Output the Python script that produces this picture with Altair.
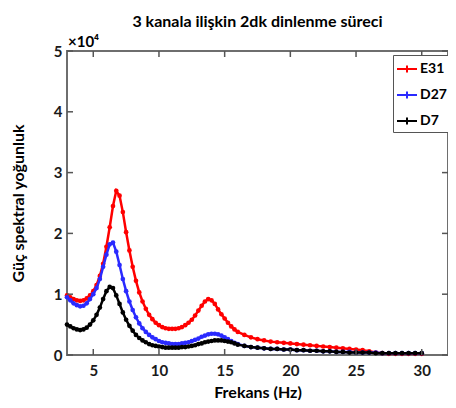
import altair as alt
import pandas as pd

freq = [3.00, 3.25, 3.50, 3.75, 4.00, 4.25, 4.50, 4.75, 5.00, 5.25,
        5.50, 5.75, 6.00, 6.25, 6.50, 6.75, 7.00, 7.25, 7.50, 7.75,
        8.00, 8.25, 8.50, 8.75, 9.00, 9.25, 9.50, 9.75, 10.00, 10.25,
        10.50, 10.75, 11.00, 11.25, 11.50, 11.75, 12.00, 12.25, 12.50, 12.75,
        13.00, 13.25, 13.50, 13.75, 14.00, 14.25, 14.50, 14.75, 15.00, 15.25,
        15.50, 15.75, 16.00,
        16.5, 17.0, 17.5, 18.0, 18.5, 19.0, 19.5, 20.0, 20.5, 21.0,
        21.5, 22.0, 22.5, 23.0, 23.5, 24.0, 24.5, 25.0, 25.5, 26.0,
        26.5, 27.0, 27.5, 28.0, 28.5, 29.0, 29.5, 30.0]

e31 = [0.98, 0.95, 0.92, 0.90, 0.89, 0.90, 0.93, 0.98, 1.05, 1.15,
       1.30, 1.50, 1.78, 2.10, 2.45, 2.70, 2.62, 2.35, 2.02, 1.72,
       1.45, 1.22, 1.03, 0.88, 0.76, 0.66, 0.59, 0.53, 0.49, 0.46,
       0.44, 0.43, 0.43, 0.43, 0.44, 0.46, 0.49, 0.53, 0.58, 0.65,
       0.73, 0.81, 0.88, 0.92, 0.90, 0.84, 0.75, 0.67, 0.60, 0.53,
       0.47, 0.42, 0.38,
       0.33, 0.29, 0.26, 0.24, 0.22, 0.21, 0.20, 0.19, 0.18, 0.17,
       0.16, 0.15, 0.14, 0.13, 0.12, 0.11, 0.10, 0.09, 0.08, 0.06,
       0.04, 0.03, 0.02, 0.02, 0.02, 0.02, 0.02, 0.02]

d27 = [0.95, 0.90, 0.85, 0.82, 0.80, 0.81, 0.85, 0.92, 1.00, 1.10,
       1.25, 1.45, 1.65, 1.82, 1.85, 1.70, 1.48, 1.25, 1.05, 0.88,
       0.74, 0.62, 0.52, 0.44, 0.38, 0.33, 0.29, 0.26, 0.23, 0.21,
       0.20, 0.19, 0.18, 0.18, 0.18, 0.19, 0.20, 0.21, 0.23, 0.25,
       0.27, 0.30, 0.32, 0.34, 0.35, 0.35, 0.34, 0.32, 0.29, 0.26,
       0.23, 0.20, 0.18,
       0.15, 0.13, 0.12, 0.11, 0.10, 0.10, 0.09, 0.09, 0.08, 0.08,
       0.07, 0.07, 0.06, 0.06, 0.05, 0.05, 0.05, 0.04, 0.04, 0.04,
       0.04, 0.03, 0.03, 0.03, 0.03, 0.03, 0.03, 0.03]

d7 = [0.50, 0.47, 0.44, 0.42, 0.41, 0.42, 0.45, 0.50, 0.57, 0.66,
      0.78, 0.92, 1.05, 1.12, 1.10, 0.98, 0.84, 0.70, 0.58, 0.48,
      0.40, 0.33, 0.28, 0.24, 0.21, 0.18, 0.16, 0.15, 0.14, 0.13,
      0.12, 0.12, 0.12, 0.12, 0.12, 0.13, 0.13, 0.14, 0.15, 0.16,
      0.18, 0.19, 0.21, 0.22, 0.23, 0.24, 0.24, 0.24, 0.23, 0.22,
      0.21, 0.19, 0.17,
      0.15, 0.13, 0.12, 0.11, 0.10, 0.10, 0.09, 0.09, 0.08, 0.08,
      0.07, 0.07, 0.06, 0.06, 0.05, 0.05, 0.04, 0.04, 0.04, 0.04,
      0.03, 0.03, 0.03, 0.03, 0.03, 0.03, 0.03, 0.03]

series = ["E31", "D27", "D7"]
colors = ["#ff0000", "#2a2aff", "#000000"]
xticks = [5, 10, 15, 20, 25, 30]
yticks = [0, 1, 2, 3, 4, 5]

rows = []
for name, vals in zip(series, [e31, d27, d7]):
    for f, v in zip(freq, vals):
        rows.append({"f": f, "p": v, "kanal": name})
df = pd.DataFrame(rows)

W, H = 381, 304
FONT = "Lato"
xs = alt.Scale(domain=[3, 32], nice=False, zero=False)
ys = alt.Scale(domain=[0, 5], nice=False)

legend = alt.Legend(
    title=None, orient="none", legendX=326, legendY=4, direction="vertical",
    symbolType="M-1,0H1M0,-0.35V0.35", symbolSize=400, symbolStrokeWidth=2,
    labelFont=FONT, labelFontSize=14, labelFontWeight="bold", labelColor="black",
    rowPadding=7, padding=3, strokeColor="#555555", fillColor="white",
    labelOffset=2, cornerRadius=0,
)
color = alt.Color("kanal:N", scale=alt.Scale(domain=series, range=colors),
                  sort=series, legend=legend)

xaxis = alt.Axis(values=xticks, title="Frekans (Hz)", ticks=False, domain=False,
                 grid=False, labelPadding=8, titlePadding=6,
                 labelFont=FONT, labelFontSize=15, labelFontWeight="bold",
                 labelColor="#1a1a1a", titleFont=FONT, titleFontSize=16,
                 titleFontWeight="bold", titleColor="black")
yaxis = alt.Axis(values=yticks, title="Güç spektral yoğunluk", ticks=False,
                 domain=False, grid=False, labelPadding=5, titlePadding=27,
                 labelFont=FONT, labelFontSize=15, labelFontWeight="bold",
                 labelColor="#1a1a1a", titleFont=FONT, titleFontSize=16,
                 titleFontWeight="bold", titleColor="black")

layers = []
for name in series:
    b = alt.Chart(df).transform_filter(alt.datum.kanal == name).encode(
        x=alt.X("f:Q", scale=xs, axis=xaxis),
        y=alt.Y("p:Q", scale=ys, axis=yaxis),
        color=color,
    )
    layers.append(b.mark_line(strokeWidth=2.5))
    layers.append(b.mark_point(filled=True, size=22, opacity=1))

xt = pd.DataFrame({"t": xticks})
yt = pd.DataFrame({"t": yticks})
tick_style = dict(color="#555555", strokeWidth=1.5)
bx = alt.Chart(xt).mark_rule(**tick_style).encode(
    x=alt.X("t:Q", scale=xs, axis=xaxis), y=alt.value(H), y2=alt.value(H - 6))
tx = alt.Chart(xt).mark_rule(**tick_style).encode(
    x=alt.X("t:Q", scale=xs, axis=xaxis), y=alt.value(0), y2=alt.value(6))
ly = alt.Chart(yt).mark_rule(**tick_style).encode(
    y=alt.Y("t:Q", scale=ys, axis=yaxis), x=alt.value(0), x2=alt.value(6))
ry = alt.Chart(yt).mark_rule(**tick_style).encode(
    y=alt.Y("t:Q", scale=ys, axis=yaxis), x=alt.value(W), x2=alt.value(W - 6))

exp = alt.Chart(pd.DataFrame({"t": ["×10⁴"]})).mark_text(
    align="left", baseline="bottom", font=FONT, fontSize=15, fontWeight="bold",
    color="black").encode(x=alt.value(1), y=alt.value(-1), text="t:N")

chart = alt.layer(*layers, bx, tx, ly, ry, exp).properties(
    width=W, height=H,
    title=alt.TitleParams("3 kanala ilişkin 2dk dinlenme süreci", font=FONT,
                          fontSize=16, fontWeight="bold", anchor="middle",
                          color="black", offset=5),
    autosize=alt.AutoSizeParams(type="none"),
    padding={"left": 59, "top": 43, "right": 0, "bottom": 45},
).configure(background="white").configure_view(stroke="#6e6e6e", strokeWidth=2)

chart.save("out.html", embed_options={"renderer": "svg", "actions": False})
